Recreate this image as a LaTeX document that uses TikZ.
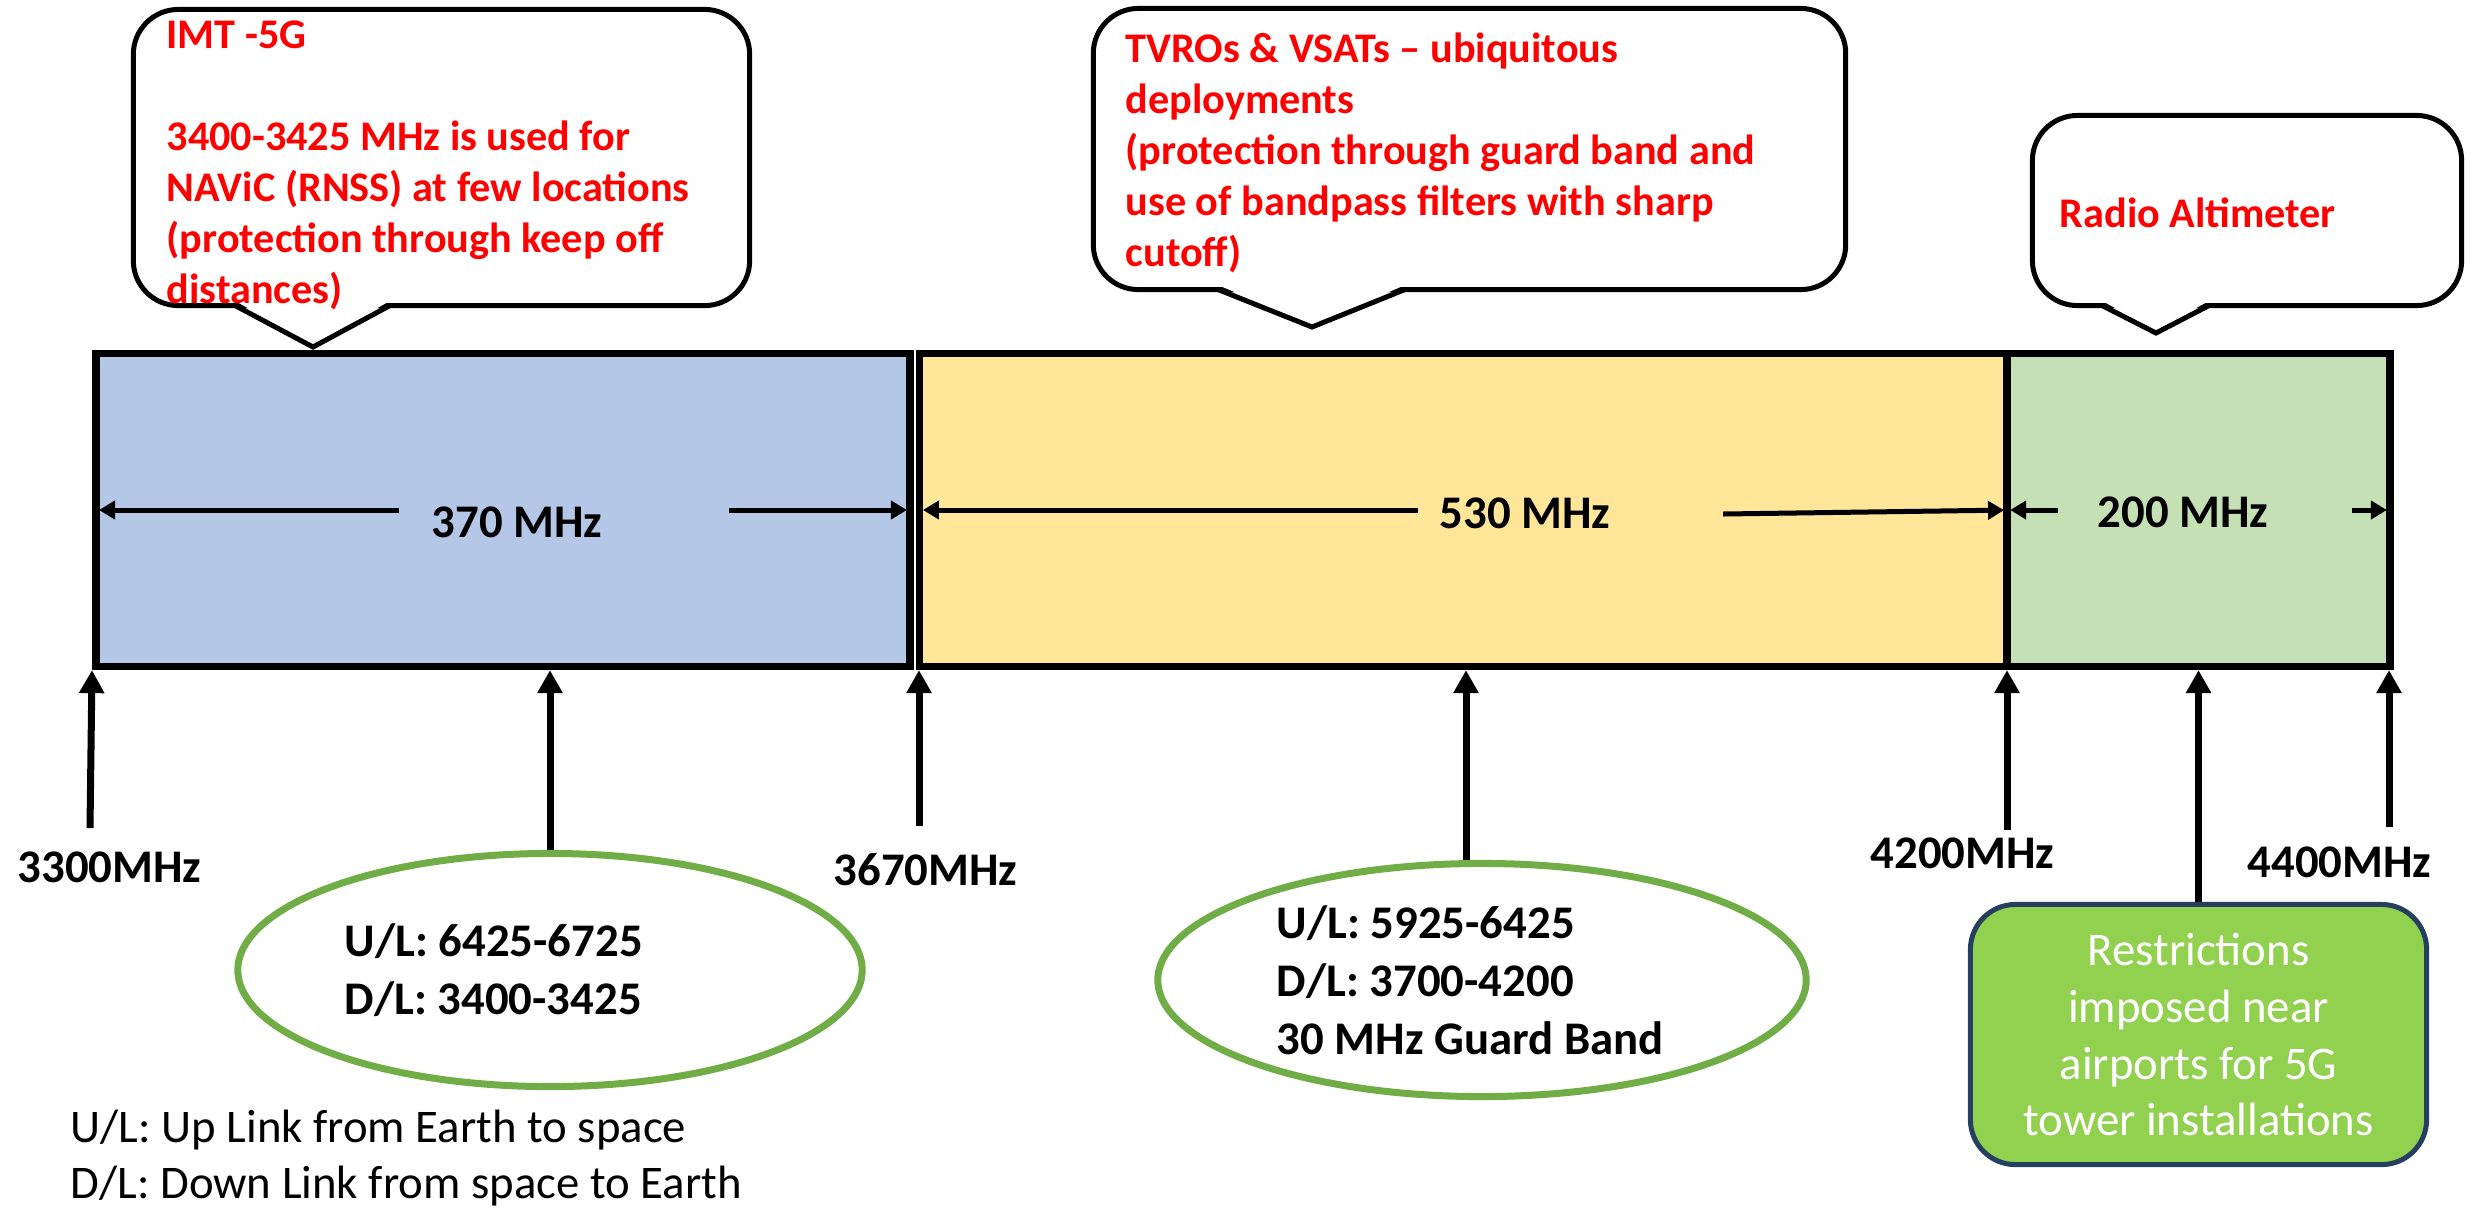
\documentclass[tikz,border=0pt]{standalone}
\usepackage{fontspec}
\setmainfont{Carlito}
\usepackage{xcolor}
\usepackage{tikz}
\usetikzlibrary{positioning,shapes.geometric,arrows.meta}
\definecolor{imtfill}{HTML}{B4C7E7}
\definecolor{tvrofill}{HTML}{FFE699}
\definecolor{altfill}{HTML}{C5E0B4}
\definecolor{ovalline}{HTML}{70AD47}
\definecolor{notefill}{HTML}{92D050}
\definecolor{noteline}{HTML}{243F60}
\definecolor{bubred}{HTML}{FF0000}
\frenchspacing
\tikzset{
  band/.style={draw, line width=0.075cm, minimum height=3.125cm, inner sep=0pt},
  bubble/.style={draw, fill=white, line width=0.05cm, rounded corners=0.45cm, inner sep=0pt},
  bubtxt/.style={anchor=north west, inner sep=0pt, align=flush left, text=bubred, font=\bfseries\fontsize{12}{14.5}\selectfont},
  oval/.style={draw=ovalline, ellipse, line width=0.07cm, inner sep=0pt, text width=4.1cm, align=flush left, font=\bfseries\fontsize{13.3}{16.5}\selectfont},
  freq/.style={anchor=base west, inner sep=0pt, font=\bfseries\fontsize{13.3}{16}\selectfont},
  bandlbl/.style={inner sep=0pt, font=\bfseries\fontsize{13.3}{16}\selectfont},
  legendtxt/.style={anchor=base west, inner sep=0pt, font=\fontsize{13.3}{16}\selectfont},
  airnote/.style={draw=noteline, fill=notefill, line width=0.05cm, rounded corners=0.45cm, text=white, align=flush center, font=\fontsize{13.3}{16.2}\selectfont, minimum width=4.56cm, minimum height=2.6cm},
  dimarrow/.style={-{Triangle[length=0.16cm,width=0.18cm]}, line width=0.05cm, shorten >=0.07cm},
  uparrow/.style={-{Triangle[length=0.23cm,width=0.24cm]}, line width=0.07cm}
}

\begin{document}
\begin{tikzpicture}[x=0.01cm, y=-0.01cm]
  \useasboundingbox (0,0) rectangle (2476,1208);

  % callouts above the bar
  \node[bubble, minimum width=6.16cm, minimum height=2.96cm] (imtnote) at (441.5,157.5) {};
  \node[bubble, minimum width=7.52cm, minimum height=2.81cm] (tvronote) at (1469.5,149) {};
  \node[bubble, minimum width=4.29cm, minimum height=1.90cm] (altbubble) at (2247,210.5) {};
  \foreach \a/\b/\c/\y/\t in {235/313/390/305.5/347, 1218/1312/1405/289.5/327, 2102/2156/2209/305.5/333} {
    \fill[white] (\a+2,\y-3.5) -- (\b,\t-3) -- (\c-2,\y-3.5) -- cycle;
    \draw[line width=0.05cm] (\a,\y) -- (\b,\t) -- (\c,\y);
  }
  \node[bubtxt] (imtnotetxt) at (166,20) {IMT -5G\\[14.5pt]3400-3425 MHz is used for\\NAViC (RNSS) at few locations\\(protection through keep off\\distances)};
  \node[bubtxt] (tvronotetxt) at (1125,32) {TVROs \& VSATs -- ubiquitous\\deployments\\(protection through guard band and\\use of bandpass filters with sharp\\cutoff)};
  \node[bubtxt] (altbubbletxt) at (2059,197) {Radio Altimeter};

  % frequency bands
  \node[band, fill=imtfill, minimum width=8.14cm] (imt) at (503,510) {};
  \node[band, fill=tvrofill, minimum width=10.87cm] (tvro) at (1463.5,510) {};
  \node[band, fill=altfill, minimum width=3.83cm] (alt) at (2198.5,510) {};

  \node[bandlbl] (imtspan) at (517,522) {370 MHz};
  \node[bandlbl] (tvrospan) at (1525,513) {530 MHz};
  \node[bandlbl] (altspan) at (2183,512) {200 MHz};

  \coordinate (imtl) at (399,510);
  \coordinate (imtr) at (729,510);
  \coordinate (tvrol) at (1418,510);
  \coordinate (tvror) at (1723,514);
  \coordinate (altl) at (2058,510);
  \coordinate (altr) at (2352,510);
  \draw[dimarrow] (imtl) -- (imt.west);
  \draw[dimarrow] (imtr) -- (imt.east);
  \draw[dimarrow] (tvrol) -- (tvro.west);
  \draw[dimarrow] (tvror) -- (tvro.east);
  \draw[dimarrow] (altl) -- (alt.west);
  \draw[dimarrow] (altr) -- (alt.east);

  % band edges
  \node[freq] (f3300) at (17,882) {3300MHz};
  \node[freq] (f3670) at (833,885) {3670MHz};
  \node[freq] (f4200) at (1870,868) {4200MHz};
  \node[freq] (f4400) at (2247,877) {4400MHz};
  \coordinate (t3300) at (90,828);
  \coordinate (t3670) at (919,826);
  \coordinate (t4200) at (2007,830);
  \coordinate (t4400) at (2389,827);
  \draw[uparrow] (t3300) -- (imt.south west);
  \draw[uparrow] (t3670) -- (t3670 |- imt.south);
  \draw[uparrow] (t4200) -- (t4200 |- alt.south);
  \draw[uparrow] (t4400) -- (t4400 |- alt.south);

  % satellite links and restrictions
  \node[oval, minimum width=6.24cm, minimum height=2.33cm] (imtlink) at (550,970) {U/L: 6425-6725\\D/L: 3400-3425};
  \node[oval, minimum width=6.48cm, minimum height=2.33cm] (tvrolink) at (1482,980) {U/L: 5925-6425\\D/L: 3700-4200\\30 MHz Guard Band};
  \node[airnote] (altnote) at (2198.5,1034.5) {Restrictions\\imposed near\\airports for 5G\\tower installations};
  \draw[uparrow] (imtlink.north) -- (imtlink.north |- imt.south);
  \draw[uparrow] ([xshift=-0.16cm]tvrolink.north) -- ([xshift=-0.16cm]tvrolink.north |- tvro.south);
  \draw[uparrow] (altnote.north) -- (alt.south);

  \node[legendtxt] (ullegend) at (70,1142) {U/L: Up Link from Earth to space};
  \node[legendtxt] (dllegend) at (70,1198) {D/L: Down Link from space to Earth};
\end{tikzpicture}
\end{document}
